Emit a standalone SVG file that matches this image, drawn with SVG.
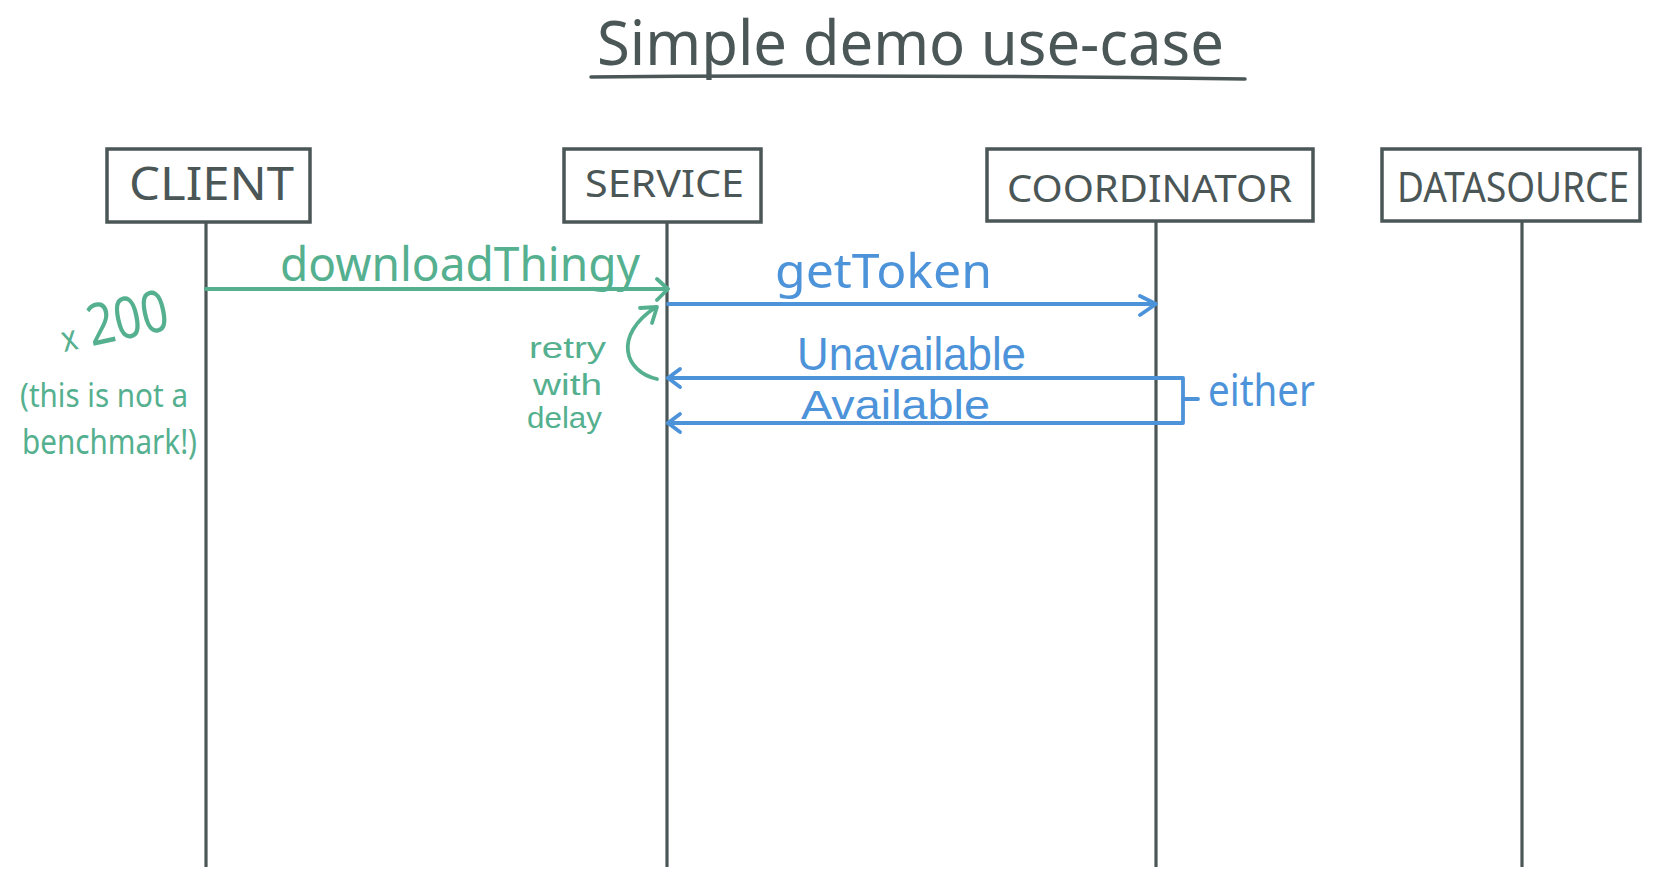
<svg xmlns="http://www.w3.org/2000/svg" width="1660" height="884" viewBox="0 0 1660 884">
  <style>
    .box { fill: #ffffff; stroke: #4b5657; stroke-width: 3.5; }
    .life { stroke: #4b5657; stroke-width: 3.2; fill: none; }
    .lbl { font-family: "Noto Sans", "Liberation Sans", sans-serif; fill: #4b5657; }
    .g { stroke: #55b08f; stroke-width: 3.8; fill: none; stroke-linecap: round; stroke-linejoin: round; }
    .b { stroke: #4d93d9; stroke-width: 3.8; fill: none; stroke-linecap: round; stroke-linejoin: round; }
    .gt { font-family: "Noto Sans", "Liberation Sans", sans-serif; fill: #55b08f; }
    .bt { font-family: "Noto Sans", "Liberation Sans", sans-serif; fill: #4d93d9; }
    .tight { font-family: "Liberation Sans", Arial, sans-serif; }
  </style>
  <rect width="1660" height="884" fill="#ffffff"/>

  <g id="title">
    <text class="lbl" x="597" y="65" font-size="62" textLength="627" lengthAdjust="spacingAndGlyphs">Simple demo use-case</text>
    <path d="M 591 77 Q 900 74 1245 79" stroke="#4b5657" stroke-width="3.5" fill="none" stroke-linecap="round"/>
  </g>

  <g id="client">
    <rect class="box" x="107" y="149" width="203" height="73"/>
    <text class="lbl" x="129" y="200" font-size="46" textLength="165" lengthAdjust="spacingAndGlyphs">CLIENT</text>
  </g>
  <g id="service">
    <rect class="box" x="564" y="149" width="197" height="73"/>
    <text class="lbl" x="585" y="197" font-size="38" textLength="159" lengthAdjust="spacingAndGlyphs">SERVICE</text>
  </g>
  <g id="coordinator">
    <rect class="box" x="987" y="149" width="326" height="72"/>
    <text class="lbl" x="1007" y="202" font-size="38" textLength="285" lengthAdjust="spacingAndGlyphs">COORDINATOR</text>
  </g>
  <g id="datasource">
    <rect class="box" x="1382" y="149" width="258" height="72"/>
    <text class="lbl" x="1397" y="202" font-size="42" textLength="232" lengthAdjust="spacingAndGlyphs">DATASOURCE</text>
  </g>

  <g id="lifelines">
    <line class="life" x1="206" y1="222" x2="206" y2="867"/>
    <line class="life" x1="667" y1="222" x2="667" y2="867"/>
    <line class="life" x1="1156" y1="221" x2="1156" y2="867"/>
    <line class="life" x1="1522" y1="221" x2="1522" y2="867"/>
  </g>

  <g id="connectors">
    <!-- downloadThingy -->
    <path class="g" d="M 206 289 H 667 M 657 279 L 668 289 L 657 300"/>
    <!-- retry loop -->
    <path class="g" d="M 657 379 C 625 372 612 336 656 307 M 640 308 L 657 307 L 652 323"/>
    <!-- getToken -->
    <path class="b" d="M 668 304 H 1155 M 1140 296 L 1156 304 L 1140 315"/>
    <!-- Unavailable / Available bracket -->
    <path class="b" d="M 668 378 H 1183 V 423 H 668"/>
    <path class="b" d="M 680 369 L 668 378 L 680 387"/>
    <path class="b" d="M 680 414 L 668 423 L 680 432"/>
    <path class="b" d="M 1183 399 H 1198"/>
  </g>

  <g id="labels">
    <text class="gt" x="280" y="281" font-size="48" textLength="360" lengthAdjust="spacingAndGlyphs">downloadThingy</text>
    <text class="bt" x="775" y="288" font-size="48" textLength="217" lengthAdjust="spacingAndGlyphs">getToken</text>
    <text class="bt tight" x="797" y="370" font-size="46" textLength="229" lengthAdjust="spacingAndGlyphs">Unavailable</text>
    <text class="bt tight" x="801" y="419" font-size="41" textLength="189" lengthAdjust="spacingAndGlyphs">Available</text>
    <text class="bt" x="1208" y="406" font-size="44" textLength="107" lengthAdjust="spacingAndGlyphs">either</text>
    <text class="gt tight" x="529" y="358" font-size="29" textLength="77" lengthAdjust="spacingAndGlyphs">retry</text>
    <text class="gt tight" x="533" y="395" font-size="29" textLength="69" lengthAdjust="spacingAndGlyphs">with</text>
    <text class="gt tight" x="527" y="428" font-size="29" textLength="75" lengthAdjust="spacingAndGlyphs">delay</text>
    <text class="gt" x="64" y="352" font-size="58" transform="rotate(-12 64 352)" textLength="110" lengthAdjust="spacingAndGlyphs"><tspan font-size="36">x</tspan> 200</text>
    <text class="gt" x="20" y="407" font-size="32" textLength="168" lengthAdjust="spacingAndGlyphs">(this is not a</text>
    <text class="gt" x="22" y="454" font-size="34" textLength="175" lengthAdjust="spacingAndGlyphs">benchmark!)</text>
  </g>
</svg>
